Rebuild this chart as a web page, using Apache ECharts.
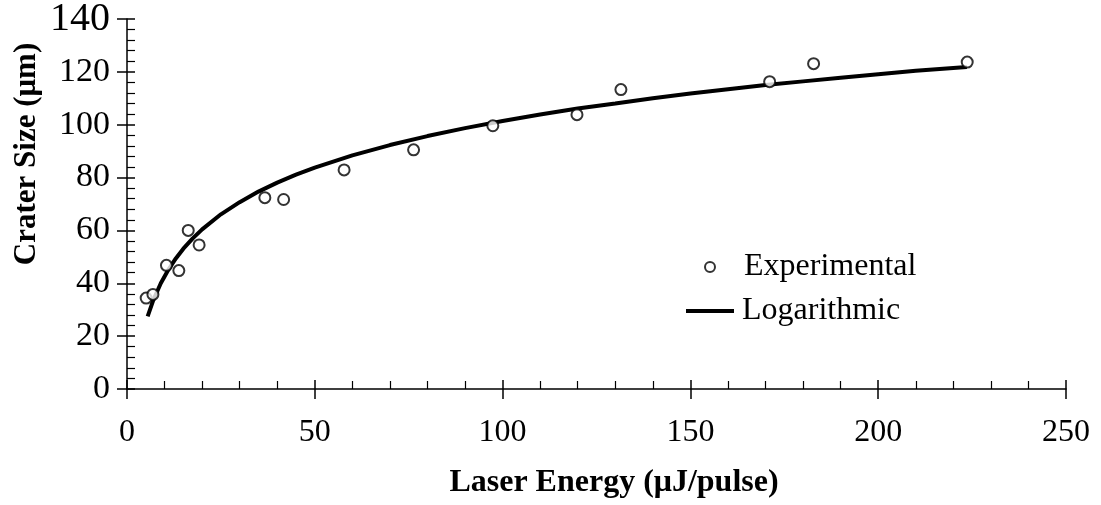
<!DOCTYPE html>
<html>
<head>
<meta charset="utf-8">
<script src="https://cdn.jsdelivr.net/npm/echarts@6/dist/echarts.min.js"></script>
<style>
html,body{margin:0;padding:0;background:#fff;}
#chart{width:1101px;height:505px;}
</style>
</head>
<body>
<div id="chart"></div>
<script>
// measured points
var expX = [5.1, 6.9, 10.5, 13.8, 16.3, 19.2, 36.7, 41.7, 57.8, 76.3, 97.4, 119.8, 131.5, 171.1, 182.8, 223.7];
var expY = [34.4, 35.8, 46.8, 44.8, 60.0, 54.5, 72.4, 71.7, 82.9, 90.5, 99.6, 103.8, 113.3, 116.3, 123.1, 123.7];
// logarithmic trend line
var fitX = [5.5, 7, 9, 11, 13, 15, 17.5, 20, 25, 30, 35, 40, 45, 50, 60, 70, 80, 90, 100, 110, 120, 130, 140, 150, 160, 170, 180, 190, 200, 210, 223.6];
var fitY = [27.5, 33.6, 40.0, 45.1, 49.4, 53.1, 57.0, 60.4, 66.1, 70.7, 74.7, 78.1, 81.1, 83.8, 88.4, 92.3, 95.7, 98.7, 101.4, 103.9, 106.1, 108.0, 110.0, 111.8, 113.4, 115.0, 116.4, 117.8, 119.1, 120.4, 121.8];
var xTicks = [0, 50, 100, 150, 200, 250];
var yTicks = [0, 20, 40, 60, 80, 100, 120, 140];

var FONT = '"Liberation Serif", "Times New Roman", serif';

function pairs(xs, ys) {
	var out = [];
	for (var i = 0; i < xs.length; i++) {
		out.push([xs[i], ys[i]]);
	}
	return out;
}

var box = {left: 127, right: 35, top: 19, bottom: 116, containLabel: false, outerBoundsMode: 'none'};
var box2 = {left: 127, right: 35, top: 19, bottom: 116, containLabel: false, outerBoundsMode: 'none'};

var myChart = echarts.init(document.getElementById('chart'));

var option = {
	animation: false,
	backgroundColor: '#fff',
	grid: [box, box2],
	legend: [{
		left: 704,
		top: 251,
		padding: 0,
		itemWidth: 10,
		itemHeight: 10,
		selectedMode: false,
		textStyle: {color: '#000', fontFamily: FONT, fontSize: 32, padding: [0, 0, 0, 24]},
		data: ['Experimental']
	}, {
		left: 686,
		top: 295,
		padding: 0,
		itemWidth: 48,
		itemHeight: 4,
		selectedMode: false,
		textStyle: {color: '#000', fontFamily: FONT, fontSize: 32, padding: [0, 0, 0, 3]},
		data: [{name: 'Logarithmic', icon: 'rect', itemStyle: {color: '#000'}}]
	}],
	xAxis: [{
		type: 'value',
		gridIndex: 0,
		min: xTicks[0],
		max: xTicks[xTicks.length - 1],
		interval: xTicks[1] - xTicks[0],
		axisLine: {show: true, onZero: false, lineStyle: {color: '#000', width: 1.5}},
		axisTick: {show: true, inside: true, length: 9, lineStyle: {color: '#000', width: 1.5}},
		minorTick: {show: true, splitNumber: 5, length: 8, lineStyle: {color: '#000', width: 1.2}},
		splitLine: {show: false},
		minorSplitLine: {show: false},
		axisLabel: {color: '#000', fontFamily: FONT, fontSize: 32, margin: 28, showMinLabel: true, showMaxLabel: true}
	}, {
		// outer half of the major ticks
		type: 'value',
		gridIndex: 1,
		min: xTicks[0],
		max: xTicks[xTicks.length - 1],
		interval: xTicks[1] - xTicks[0],
		axisLine: {show: false, onZero: false},
		axisTick: {show: true, length: 10, lineStyle: {color: '#000', width: 1.5}},
		splitLine: {show: false},
		axisLabel: {show: false}
	}],
	yAxis: [{
		type: 'value',
		gridIndex: 0,
		min: yTicks[0],
		max: yTicks[yTicks.length - 1],
		interval: yTicks[1] - yTicks[0],
		axisLine: {show: true, onZero: false, lineStyle: {color: '#000', width: 1.5}},
		axisTick: {show: true, inside: true, length: 8, lineStyle: {color: '#000', width: 1.5}},
		minorTick: {show: true, splitNumber: 5, length: 8, lineStyle: {color: '#000', width: 1.2}},
		splitLine: {show: false},
		minorSplitLine: {show: false},
		axisLabel: {
			color: '#000', fontFamily: FONT, fontSize: 34, margin: 17, showMinLabel: true, showMaxLabel: true,
			formatter: function (v) {
				return v === yTicks[yTicks.length - 1] ? '{big|' + v + '}' : '' + v;
			},
			rich: {big: {fontFamily: FONT, fontSize: 40, color: '#000'}}
		}
	}, {
		type: 'value',
		gridIndex: 1,
		min: yTicks[0],
		max: yTicks[yTicks.length - 1],
		interval: yTicks[1] - yTicks[0],
		axisLine: {show: false, onZero: false},
		axisTick: {show: true, length: 10, lineStyle: {color: '#000', width: 1.5}},
		splitLine: {show: false},
		axisLabel: {show: false}
	}],
	graphic: [{
		type: 'text',
		x: 614,
		y: 483,
		style: {text: 'Laser Energy (μJ/pulse)', fill: '#000', font: 'bold 32px ' + FONT, textAlign: 'center', textVerticalAlign: 'middle'}
	}, {
		type: 'text',
		x: 27,
		y: 154,
		rotation: Math.PI / 2,
		style: {text: 'Crater Size (μm)', fill: '#000', font: 'bold 31px ' + FONT, textAlign: 'center', textVerticalAlign: 'middle'}
	}],
	series: [{
		name: 'Logarithmic',
		type: 'line',
		xAxisIndex: 0,
		yAxisIndex: 0,
		symbol: 'none',
		showSymbol: false,
		lineStyle: {color: '#000', width: 4},
		itemStyle: {color: '#000'},
		z: 2,
		data: pairs(fitX, fitY)
	}, {
		name: 'Experimental',
		type: 'scatter',
		xAxisIndex: 0,
		yAxisIndex: 0,
		symbol: 'circle',
		symbolSize: 11,
		symbolKeepAspect: true,
		itemStyle: {color: '#fff', borderColor: '#000', borderWidth: 2},
		z: 3,
		data: pairs(expX, expY)
	}]
};
myChart.setOption(option);
</script>
</body>
</html>
